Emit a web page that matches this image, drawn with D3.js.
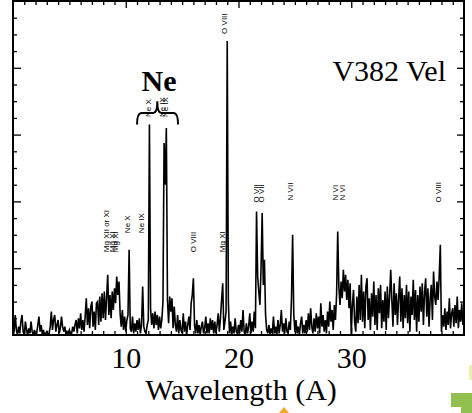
<!DOCTYPE html><html lang="en"><head><meta charset="utf-8">
<title>V382 Vel</title>
<script src="https://cdn.jsdelivr.net/npm/d3@7"></script>
<style>
body {
	margin: 0;
	background: #fff;
}
svg {
	display: block;
}
.serif {
	font-family: "Liberation Serif", "Times New Roman", Times, "DejaVu Serif", serif;
}
</style>
</head>
<body>
<div id="chart"></div>
<script>
// spectrum, counts in 0.1 A bins starting at 0 A (one row per Angstrom)
const binStart = 0;
const binWidth = 0.1;
const counts = [
	0, 0.2, 1.2, 0.3, 0, 0.5, 0.1, 0.8, 1.2, 0.2,
	0, 0.8, 0.3, 0, 0.4, 0.1, 0.8, 0.2, 0, 0.3,
	0, 0.1, 0.6, 1.1, 0.2, 0.6, 0, 0.3, 0, 0.1,
	0.2, 0, 0.1, 0.5, 1.4, 0.3, 0.9, 1.2, 0.2, 0.6,
	0.9, 0.1, 0.4, 1.1, 0.5, 0.2, 0.5, 0, 0.2, 0.1,
	0.3, 0, 0.1, 0.5, 0.2, 0.6, 0.9, 0.1, 1.0, 0.4,
	1.3, 0.3, 0.9, 0.2, 1.1, 2.2, 0.6, 1.6, 0.4, 1.7,
	2.0, 0.5, 1.4, 0.3, 1.9, 2.0, 0.6, 2.3, 0.8, 2.5,
	1.0, 2.6, 0.9, 2.2, 3.6, 1.2, 2.4, 1.0, 2.6, 1.5,
	2.8, 1.9, 3.5, 2.4, 3.2, 1.3, 0.5, 1.5, 0.3, 1.1,
	0.2, 0.9, 1.2, 5.1, 0.4, 0.2, 1.1, 0.1, 0.7, 0.2,
	0.9, 0.3, 1.0, 0.1, 0.6, 2.9, 0.5, 0.2, 0.1, 0.6,
	0.9, 12.6, 1.6, 0.6, 1.3, 0.4, 1.4, 0.6, 1.2, 0.3,
	1.1, 0.4, 0.9, 2.0, 11.5, 9.0, 12.4, 2.1, 0.7, 2.3,
	1.4, 2.2, 0.4, 1.7, 0.6, 0.2, 1.2, 0.1, 0.9, 0.3,
	0.1, 1.3, 0.2, 0.8, 0, 0.6, 1.1, 0.3, 1.9, 2.4,
	3.4, 0.6, 0.1, 0.9, 0.1, 0.6, 0, 0.5, 0.8, 0.1,
	0.4, 1.1, 0.1, 0.7, 0.1, 1.0, 0.3, 0.9, 0.1, 0.8,
	0.1, 0.6, 1.3, 0.2, 1.0, 2.1, 3.1, 0.3, 0.8, 1.4,
	17.6, 2.0, 0.1, 0.8, 0, 0.5, 0.1, 1.0, 0.2, 0.1,
	0.6, 0.1, 0.9, 0.2, 1.5, 0.2, 0, 0.7, 0.1, 0.5,
	1.3, 0.1, 0.8, 0.2, 1.4, 0.4, 7.4, 3.5, 2.6, 1.8,
	4.0, 7.3, 3.0, 4.5, 1.2, 0.3, 0.1, 0.6, 0, 0.4,
	0.1, 1.1, 0.1, 0.5, 0, 0.9, 0.1, 0.6, 1.5, 0.2,
	0.7, 0.1, 1.0, 0.2, 0.1, 0.8, 0.3, 2.2, 6.0, 1.3,
	0.2, 0.9, 0.1, 0.5, 0, 0.7, 1.1, 0.1, 0.6, 0.1,
	0.9, 0.2, 1.3, 0.3, 1.6, 0.5, 0.1, 1.0, 0.2, 1.3,
	0.4, 1.1, 0.1, 1.9, 0.5, 1.2, 0.2, 0.9, 0.1, 1.4,
	0.5, 2.0, 0.8, 1.5, 0.3, 1.8, 0.9, 2.4, 6.2, 2.9,
	1.8, 3.2, 2.2, 3.9, 2.6, 3.6, 2.1, 3.3, 1.6, 3.1,
	0, 1.8, 2.7, 0.8, 0.2, 2.3, 0.7, 3.0, 0.9, 3.6,
	0.8, 2.6, 0.4, 2.9, 3.4, 0.9, 2.2, 0.3, 2.5, 1.1,
	3.2, 0.6, 2.4, 0.3, 2.8, 1.3, 3.0, 0.4, 2.1, 0.8,
	2.6, 0.3, 2.9, 1.0, 2.3, 3.9, 2.1, 0.5, 3.1, 1.2,
	2.5, 0.6, 2.2, 3.5, 0.8, 2.8, 0.4, 2.4, 1.0, 3.0,
	0.7, 2.6, 0.2, 2.3, 1.2, 3.3, 0.9, 2.7, 0.2, 2.4,
	0.8, 2.9, 1.4, 3.1, 0.6, 2.5, 3.4, 1.1, 2.8, 0.5,
	2.2, 3.0, 0.9, 3.8, 2.3, 1.8, 3.2, 2.1, 3.5, 5.4,
	0.2, 1.2, 0.5, 1.6, 0.3, 1.4, 0.6, 2.2, 0.4, 1.3,
	1.6, 0.5, 1.8, 0.7, 2.3, 0.4, 1.5, 0.8, 1.9, 0.6
];

const xTickLabels = [10, 20, 30];

// line identifications
const lineNames = ["Mg XII or XI", "Mg XI", "Mg XI", "Ne X", "Ne IX", "O VIII", "Mg XI",
	"O VIII", "O VII", "O VII", "N VII", "N VI", "N VI", "O VIII"];
const lineWaves = [8.25, 8.78, 9.04, 10.1, 11.35, 15.96, 18.53,
	18.7, 21.54, 21.99, 24.56, 28.55, 29.17, 37.68];
const neNames = ["Ne X", "Ne IX", "Ne IX"];
const neWaves = [11.97, 13.2, 13.47];

window.onload = () => {
	const W = 472, H = 413;
	const margin = { top: 1, right: 8, bottom: 78, left: 13 };
	const width = W - margin.left - margin.right;
	const height = H - margin.top - margin.bottom;

	const svg = d3.select("#chart")
		.append("svg")
			.attr("width", W)
			.attr("height", H);
	const g = svg.append("g")
		.attr("transform", `translate(${margin.left}, ${margin.top})`);

	const x = d3.scaleLinear().domain([0, 40]).range([0, width]);
	const y = d3.scaleLinear().domain([0, 20]).range([height, 0]);

	g.append("clipPath").attr("id", "clip")
		.append("rect").attr("width", width).attr("height", height);

	// spectrum
	g.append("path")
		.datum(counts)
		.attr("clip-path", "url(#clip)")
		.attr("fill", "none")
		.attr("stroke", "#000")
		.attr("stroke-width", 1.6)
		.attr("d", d3.line()
			.x((d, i) => x(binStart + i * binWidth))
			.y(d => y(d))
		);

	// ticks (inward)
	const minorX = d3.range(1, 40).filter(v => v % 10);
	const majorX = [10, 20, 30];
	const minorY = d3.range(1, 20).filter(v => v % 4);
	const majorY = [4, 8, 12, 16];
	const clean = sel => { sel.select(".domain").remove(); sel.selectAll("line").attr("stroke-width", 1.3); };

	g.append("g").call(d3.axisTop(x).tickValues(minorX).tickSize(-4).tickFormat("")).call(clean);
	g.append("g").call(d3.axisTop(x).tickValues(majorX).tickSize(-7).tickFormat("")).call(clean);
	g.append("g").attr("transform", `translate(0, ${height})`)
		.call(d3.axisBottom(x).tickValues(minorX).tickSize(-4).tickFormat("")).call(clean);
	const xAxis = g.append("g").attr("transform", `translate(0, ${height})`)
		.call(d3.axisBottom(x).tickValues(xTickLabels).tickSize(-7).tickPadding(12))
		.call(clean)
		.attr("font-family", null)
		.attr("font-size", null);
	xAxis.selectAll("text")
		.attr("class", "serif")
		.attr("font-size", 30)
		.attr("fill", "#000");
	g.append("g").call(d3.axisLeft(y).tickValues(minorY).tickSize(-4).tickFormat("")).call(clean);
	g.append("g").call(d3.axisLeft(y).tickValues(majorY).tickSize(-8).tickFormat("")).call(clean);
	g.append("g").attr("transform", `translate(${width}, 0)`)
		.call(d3.axisRight(y).tickValues(minorY).tickSize(-4).tickFormat("")).call(clean);
	g.append("g").attr("transform", `translate(${width}, 0)`)
		.call(d3.axisRight(y).tickValues(majorY).tickSize(-7).tickFormat("")).call(clean);

	// frame
	g.append("rect")
		.attr("width", width).attr("height", height)
		.attr("fill", "none").attr("stroke", "#000").attr("stroke-width", 2);

	// x axis title
	svg.append("text")
		.attr("class", "serif")
		.attr("x", 241).attr("y", 400)
		.attr("text-anchor", "middle")
		.attr("font-size", 30)
		.text("Wavelength (A)");

	// star name
	g.append("text")
		.attr("class", "serif")
		.attr("x", 433).attr("y", 80)
		.attr("text-anchor", "end")
		.attr("font-size", 30)
		.text("V382 Vel");

	// line labels, rotated
	const lineLevels = [4.96, 4.96, 4.96, 6.1, 6.1, 4.96, 4.96, 18.03, 7.94, 7.94, 8.06, 8.06, 8.06, 7.94];
	const small = (names, waves, levels) => g.append("g")
		.selectAll("text")
		.data(names)
		.join("text")
			.attr("transform", (d, i) => `translate(${x(waves[i])}, ${y(levels[i])}) rotate(-90)`)
			.attr("dy", "0.35em")
			.attr("font-family", "'Liberation Sans', Arial, sans-serif")
			.attr("font-size", 8)
			.text(d => d);
	small(lineNames, lineWaves, lineLevels);
	small(neNames, neWaves, neNames.map(() => 13.05));

	// Ne brace
	const by = 13.3;
	g.append("path")
		.attr("fill", "none").attr("stroke", "#000").attr("stroke-width", 2)
		.attr("d", `M${x(11.0)},${y(12.6)} Q${x(11.0)},${y(by)} ${x(11.4)},${y(by)}
			L${x(12.45)},${y(by)} Q${x(12.8)},${y(by)} ${x(12.8)},${y(14.0)}
			Q${x(12.8)},${y(by)} ${x(13.15)},${y(by)}
			L${x(14.25)},${y(by)} Q${x(14.64)},${y(by)} ${x(14.64)},${y(12.6)}`);
	g.append("text")
		.attr("class", "serif")
		.attr("x", x(12.95)).attr("y", y(14.6))
		.attr("text-anchor", "middle")
		.attr("font-weight", "bold")
		.attr("font-size", 30)
		.text("Ne");

	// slide leftovers at the bottom edge
	svg.append("rect").attr("x", 469).attr("y", 365).attr("width", 3).attr("height", 15).attr("fill", "#eef0b0");
	svg.append("path").attr("d", "M451,393H472V413H461V407H451Z").attr("fill", "#92c050");
	svg.append("path").attr("d", "M279,413L284,407L289,413Z").attr("fill", "#f5a623");
};
</script>
</body>
</html>
